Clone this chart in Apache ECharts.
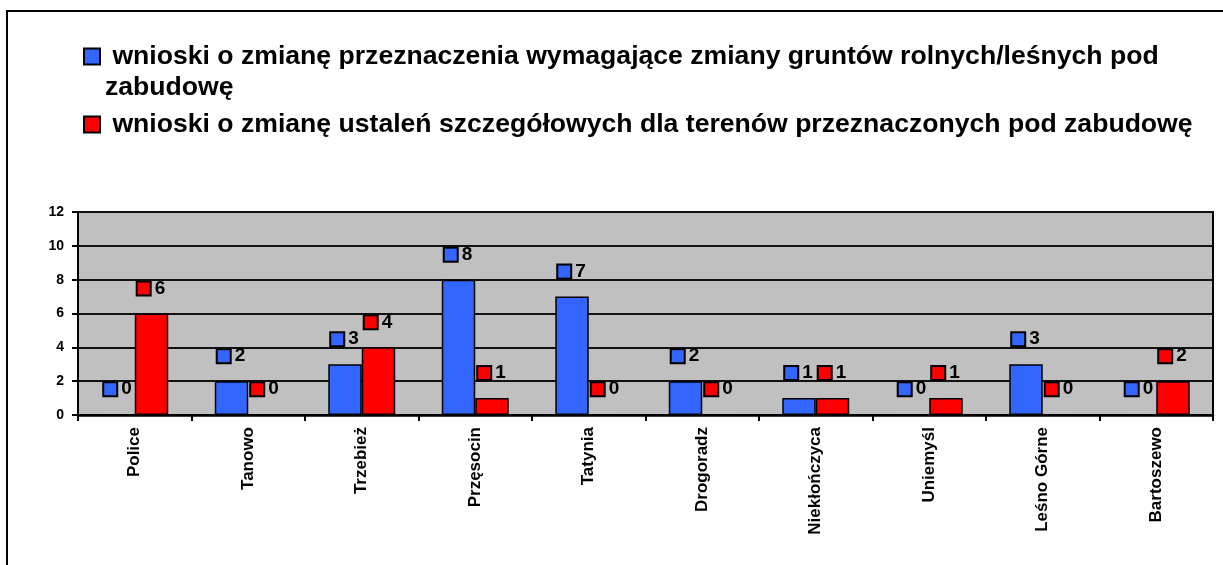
<!DOCTYPE html>
<html>
<head>
<meta charset="utf-8">
<script src="https://cdn.jsdelivr.net/npm/echarts@6/dist/echarts.min.js"></script>
<style>
  html, body { margin: 0; padding: 0; background: #fff; }
  #chart { width: 1223px; height: 565px; }
</style>
</head>
<body>
<div id="chart"></div>
<script>
// kategorie (miejscowości)
const categories = ["Police", "Tanowo", "Trzebież", "Przęsocin", "Tatynia", "Drogoradz", "Niekłończyca", "Uniemyśl", "Leśno Górne", "Bartoszewo"];
const seriesNames = [
  "wnioski o zmianę przeznaczenia wymagające zmiany gruntów rolnych/leśnych pod zabudowę",
  "wnioski o zmianę ustaleń szczegółowych dla terenów przeznaczonych pod zabudowę",
];
const rolneValues = [0, 2, 3, 8, 7, 2, 1, 0, 3, 0];
const ustaleniaValues = [6, 0, 4, 1, 0, 0, 1, 1, 0, 2];
const yTicks = [0, 2, 4, 6, 8, 10, 12];

const FONT = "Liberation Sans";
const colors = ["#3366FF", "#FF0000"];

function makeLabel(color) {
  return {
    show: true,
    position: "top",
    distance: 16,
    formatter: (p) => "{s|}{v|" + p.value + "}",
    rich: {
      s: {
        width: 12,
        height: 12,
        backgroundColor: color,
        borderColor: "#000",
        borderWidth: 2,
      },
      v: {
        fontFamily: FONT,
        fontWeight: "bold",
        fontSize: 19,
        color: "#000",
        padding: [0, 0, 0, 5],
        lineHeight: 18,
      },
    },
  };
}

const myChart = echarts.init(document.getElementById("chart"));
myChart.setOption({
  animation: false,
  color: colors,
  graphic: [
    {
      type: "rect",
      shape: { x: 7, y: 11, width: 1400, height: 800 },
      style: { fill: "none", stroke: "#000", lineWidth: 2 },
      silent: true,
    },
  ],
  legend: {
    orient: "vertical",
    left: 83,
    top: 10,
    padding: 0,
    itemGap: 6,
    itemWidth: 16,
    itemHeight: 16,
    icon: "rect",
    itemStyle: { borderColor: "#000", borderWidth: 2 },
    textStyle: {
      fontFamily: FONT,
      fontWeight: "bold",
      fontSize: 26.6,
      lineHeight: 31,
      color: "#000",
    },
    formatter: (name) => {
      if (name === seriesNames[0]) {
        // pusta linia u góry, żeby ikona stała przy pierwszym wierszu
        const i = name.lastIndexOf(" ");
        return "\n " + name.slice(0, i) + "\n" + name.slice(i + 1);
      }
      return " " + name;
    },
  },
  grid: {
    show: true,
    left: 78,
    right: 10,
    top: 212,
    bottom: 150,
    backgroundColor: "#C0C0C0",
    borderColor: "#000",
    borderWidth: 2,
  },
  xAxis: {
    type: "category",
    data: categories,
    boundaryGap: true,
    axisLine: { lineStyle: { color: "#000", width: 2.5 } },
    axisTick: { show: true, length: 6, lineStyle: { color: "#000", width: 2 } },
    axisLabel: {
      rotate: 90,
      margin: 12,
      interval: 0,
      fontFamily: FONT,
      fontWeight: "bold",
      fontSize: 17,
      color: "#000",
    },
  },
  yAxis: {
    type: "value",
    min: yTicks[0],
    max: yTicks[yTicks.length - 1],
    interval: 2,
    axisLine: { show: true, lineStyle: { color: "#000", width: 2 } },
    axisTick: { show: true, length: 6, lineStyle: { color: "#000", width: 2 } },
    splitLine: { lineStyle: { color: "#111", width: 2 } },
    axisLabel: {
      margin: 14,
      fontFamily: FONT,
      fontWeight: "bold",
      fontSize: 14,
      color: "#000",
    },
  },
  series: [
    {
      name: seriesNames[0],
      type: "bar",
      data: rolneValues,
      barGap: "0%",
      barCategoryGap: "41%",
      itemStyle: { color: colors[0], borderColor: "#000", borderWidth: 1.5 },
      label: makeLabel(colors[0]),
    },
    {
      name: seriesNames[1],
      type: "bar",
      data: ustaleniaValues,
      barGap: "0%",
      barCategoryGap: "41%",
      itemStyle: { color: colors[1], borderColor: "#000", borderWidth: 1.5 },
      label: makeLabel(colors[1]),
    },
  ],
});
</script>
</body>
</html>
